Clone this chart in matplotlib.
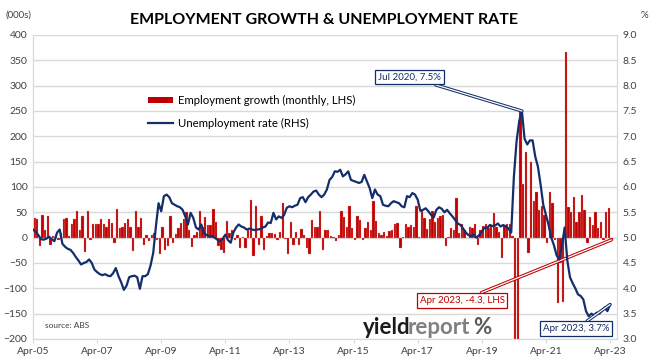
import numpy as np
import matplotlib
matplotlib.use('Agg')
import matplotlib.pyplot as plt
from matplotlib.patches import Patch
from matplotlib.lines import Line2D
import matplotlib.patheffects as pe

plt.rcParams['font.family'] = ['Lato', 'DejaVu Sans']

# monthly data, Apr-2005 .. Apr-2023
emp_growth = [
    39, 37, -17, 45, 16, 42, -15, 3, 6,                      # 2005 Apr-Dec
    -5, 10, 36, 39, 3, 26, 36, 52, 16, 43, -29, 53,          # 2006
    -4, 27, 27, 27, 36, 26, 22, 37, 29, -10, 57, 19,         # 2007
    22, 29, 37, 22, -27, 52, 22, 39, -14, 6, -7, 6,          # 2008
    9, -5, -33, 22, -24, -17, 43, -10, 8, 19, 29, 36,        # 2009
    50, 15, -18, 6, 12, 53, 22, 41, 25, 25, 57, 30,          # 2010
    -17, -24, -30, 32, 10, 16, -5, 5, -20, 2, -20, 15,       # 2011
    74, -37, 63, -14, 43, -24, 3, 9, 10, 8, -4, 12,          # 2012
    68, -3, -32, 30, -14, 12, -14, 17, 5, -20, -32, 35,      # 2013
    21, 22, 53, -24, 16, 15, 4, 2, -7, 6, 52, 41,            # 2014
    22, 63, 20, -4, 42, 35, -4, 20, 30, 16, 73, 32,          # 2015
    10, 6, 12, 4, 14, 15, 27, 29, -20, 2, 26, 22,            # 2016
    25, 22, 63, 1, 52, 39, 17, 36, 52, 30, 38, 43,           # 2017
    45, -17, 2, 19, 16, 78, 10, 26, 16, 0, 22, 20,           # 2018
    26, -14, 16, 24, 26, 20, 25, 49, 22, 12, -40, 25,        # 2019
    26, 26, 4, -600, -230, 250, 105, 170, -30, 150, 72, 90,  # 2020
    55, 62, 45, -10, 90, 68, -4, -129, -50, -126, 366, 60,   # 2021
    50, 80, 30, 50, 85, 55, -10, 40, 25, 50, 20, 30,         # 2022
    -5, 50, 58, -4.3,                                        # 2023 Jan-Apr
]

unemp_rate = [
    5.16, 5.12, 5.05, 4.97, 4.96, 4.98, 5.02, 4.97, 4.93,
    5.1, 5.16, 4.88, 4.82, 4.78, 4.76, 4.7, 4.62, 4.55, 4.47, 4.5, 4.52,
    4.57, 4.5, 4.37, 4.32, 4.28, 4.26, 4.28, 4.25, 4.24, 4.3, 4.4, 4.24,
    4.12, 3.97, 4.05, 4.22, 4.24, 4.25, 4.22, 3.99, 4.24, 4.24, 4.28, 4.45,
    4.7, 5.22, 5.68, 5.52, 5.82, 5.85, 5.8, 5.68, 5.65, 5.62, 5.6, 5.55,
    5.42, 5.26, 5.49, 5.39, 5.2, 5.16, 5.26, 5.09, 5.05, 5.03, 5.03, 5.0,
    4.96, 4.93, 4.98, 5.06, 4.95, 4.9, 5.1, 5.2, 5.26, 5.22, 5.2, 5.16,
    5.18, 5.16, 5.15, 5.16, 5.17, 5.2, 5.22, 5.3, 5.29, 5.49, 5.36, 5.42,
    5.39, 5.45, 5.59, 5.62, 5.6, 5.63, 5.65, 5.78, 5.8, 5.7, 5.8, 5.85,
    5.91, 5.93, 5.85, 5.8, 5.85, 5.95, 6.14, 6.2, 6.31, 6.3, 6.34, 6.21,
    6.25, 6.31, 6.14, 6.12, 6.1, 6.08, 6.1, 6.24, 6.11, 5.98, 5.78, 5.95,
    5.85, 5.82, 5.65, 5.63, 5.62, 5.68, 5.72, 5.7, 5.68, 5.62, 5.6, 5.82,
    5.8, 5.88, 5.85, 5.75, 5.53, 5.55, 5.58, 5.52, 5.45, 5.4, 5.55, 5.6,
    5.57, 5.5, 5.55, 5.48, 5.42, 5.35, 5.28, 5.25, 5.18, 5.1, 5.05, 5.03,
    5.06, 5.0, 5.05, 5.12, 5.2, 5.19, 5.25, 5.23, 5.24, 5.28, 5.22, 5.25,
    5.22, 5.18, 5.1, 6.2, 6.9, 7.3, 7.5, 6.95, 6.84, 6.92, 6.92, 6.6,
    6.4, 6.05, 5.65, 5.45, 5.25, 5.0, 4.85, 4.65, 4.57, 4.85, 5.2, 4.55,
    4.22, 4.1, 4.0, 3.88, 3.85, 3.78, 3.55, 3.45, 3.5, 3.47, 3.52, 3.5,
    3.56, 3.62, 3.55, 3.68,
]

tick_labels = ['Apr-05', 'Apr-07', 'Apr-09', 'Apr-11', 'Apr-13',
               'Apr-15', 'Apr-17', 'Apr-19', 'Apr-21', 'Apr-23']

RED = '#C00000'
NAVY = '#142E6B'
GRID = '#D9D9D9'
TXT = '#404040'

months = np.arange(len(emp_growth))

fig = plt.figure(figsize=(6.62, 3.63), dpi=100)
ax = fig.add_axes([33/662, 1-339/363, 584/662, 304/363])
ax2 = ax.twinx()

ax.bar(months + 0.5, emp_growth, width=0.88, color=RED, edgecolor='#E8A0A0', linewidth=0.2, zorder=2)
ax2.plot(months, unemp_rate, color=NAVY, lw=1.6, zorder=3)

ax.set_xlim(0, 218.6)
ax.set_ylim(-200, 400)
ax2.set_ylim(3.0, 9.0)
ax.set_yticks(np.arange(-200, 401, 50))
ax2.set_yticks(np.arange(3.0, 9.01, 0.5))
ax2.set_yticklabels([f'{v:.1f}' for v in np.arange(3.0, 9.01, 0.5)])
ax.set_xticks(np.arange(0, 217, 24))
ax.set_xticklabels(tick_labels)

ax.set_axisbelow(True)
ax.yaxis.grid(True, color=GRID, lw=1)
for a in (ax, ax2):
    for s in a.spines.values():
        s.set_color(GRID)
    a.spines['top'].set_visible(False)
    a.tick_params(axis='y', length=0, labelsize=7.5, labelcolor=TXT, pad=4)
ax.tick_params(axis='x', length=3, color=GRID, labelsize=7.5, labelcolor=TXT, pad=3)

fig.text(5/662, 1-15/363, '(000s)', fontsize=7, color=TXT, va='center')
fig.text(641/662, 1-15/363, '%', fontsize=7, color=TXT, va='center')
fig.text(324/662, 1-20/363, 'EMPLOYMENT GROWTH & UNEMPLOYMENT RATE',
         fontsize=11.5, fontweight='bold', ha='center', va='center', color='black')

handles = [Patch(facecolor=RED, edgecolor='none'),
           Line2D([0], [0], color=NAVY, lw=1.6)]
ax.legend(handles, ['Employment growth (monthly, LHS)', 'Unemployment rate (RHS)'],
          loc='center left', bbox_to_anchor=(0.18, 0.747), frameon=False,
          fontsize=8.2, handlelength=2.2, handleheight=0.5, labelspacing=1.05,
          handletextpad=0.4, labelcolor='black')

box_navy = dict(boxstyle='square,pad=0.3', fc='white', ec=NAVY, lw=0.9)
box_red = dict(boxstyle='square,pad=0.3', fc='white', ec=RED, lw=0.9)
lead = [pe.Stroke(linewidth=2.4, foreground=NAVY), pe.Stroke(linewidth=0.9, foreground='white')]
lead_r = [pe.Stroke(linewidth=2.4, foreground=RED), pe.Stroke(linewidth=0.9, foreground='white')]

a1 = ax2.annotate('Jul 2020, 7.5%', xy=(183, 7.5), xytext=(141, 8.17), textcoords='data',
                  fontsize=7, color=NAVY, ha='center', va='center', bbox=box_navy,
                  arrowprops=dict(arrowstyle='-', color=NAVY, lw=1, shrinkA=0, shrinkB=0))
a1.arrow_patch.set_path_effects(lead)
a2 = ax.annotate('Apr 2023, -4.3, LHS', xy=(216.5, -4.3), xytext=(160.6, -124), textcoords='data',
                 fontsize=7, color=RED, ha='center', va='center', bbox=box_red,
                 arrowprops=dict(arrowstyle='-', color=RED, lw=1, shrinkA=0, shrinkB=0))
a2.arrow_patch.set_path_effects(lead_r)
a3 = ax2.annotate('Apr 2023, 3.7%', xy=(216, 3.68), xytext=(203.3, 3.2), textcoords='data',
                  fontsize=7, color=NAVY, ha='center', va='center', bbox=box_navy,
                  arrowprops=dict(arrowstyle='-', color=NAVY, lw=1, shrinkA=0, shrinkB=0))
a3.arrow_patch.set_path_effects(lead)

ax.text(0.02, 0.035, 'source: ABS', transform=ax.transAxes, fontsize=6, color=TXT)

# yieldreport logo, pieces laid side by side
renderer = fig.canvas.get_renderer()
x0, y0 = 363/662, 1-328/363
t = fig.text(x0, y0, 'yield', fontsize=16, fontweight='bold', color='#1A1A1A', va='center')
x1 = fig.transFigure.inverted().transform((t.get_window_extent(renderer).x1 - 3, 0))[0]
t = fig.text(x1, y0, 'report', fontsize=16, fontweight='bold', color='#808080', va='center')
x2 = fig.transFigure.inverted().transform((t.get_window_extent(renderer).x1, 0))[0]
fig.text(x2 + 3/662, y0, '%', fontsize=16, fontweight='bold', color='#5A5A5A', va='center')

fig.savefig('out.png', dpi=100)
